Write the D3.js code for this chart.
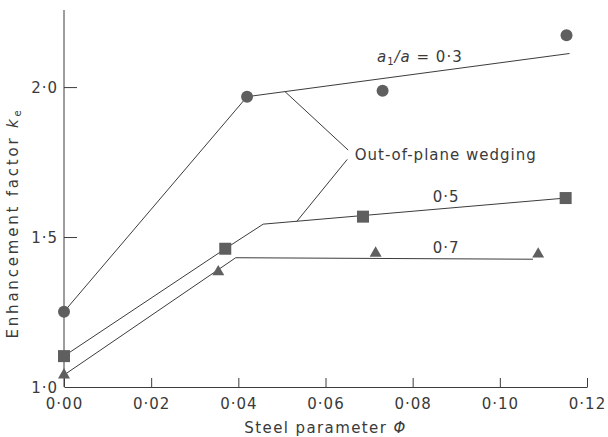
<!DOCTYPE html>
<html>
<head>
<meta charset="utf-8">
<script src="https://cdn.jsdelivr.net/npm/d3@7"></script>
<style>
  html, body { margin: 0; padding: 0; background: #fff; }
  svg { display: block; }
  text { font-family: "DejaVu Sans", sans-serif; fill: #3a3a3a; }
</style>
</head>
<body>
<svg id="chart" width="608" height="437"></svg>
<script>
// ---- data ----
const xTicks = [0.00, 0.02, 0.04, 0.06, 0.08, 0.10, 0.12];
const yTicks = [1.0, 1.5, 2.0];

// measured points, a1/a = 0.3 (circles)
const phiCircle = [0, 0.042, 0.0731, 0.1153];
const keCircle  = [1.251, 1.968, 1.988, 2.173];
// a1/a = 0.5 (squares)
const phiSquare = [0, 0.037, 0.0686, 0.1151];
const keSquare  = [1.103, 1.461, 1.568, 1.630];
// a1/a = 0.7 (triangles)
const phiTriangle = [0, 0.0354, 0.0715, 0.1088];
const keTriangle  = [1.040, 1.384, 1.446, 1.443];

// theoretical lines
const line03Phi = [0, 0.042, 0.116];
const line03Ke  = [1.251, 1.968, 2.112];
const line05Phi = [0, 0.037, 0.0457, 0.1151];
const line05Ke  = [1.103, 1.461, 1.543, 1.630];
const line07Phi = [0, 0.0394, 0.1076];
const line07Ke  = [1.040, 1.431, 1.426];

// leader lines for "Out-of-plane wedging"
const leaderPhi = [[0.0507, 0.0652], [0.0650, 0.0534]];
const leaderKe  = [[1.985, 1.790], [1.759, 1.552]];

// labels
const labelTexts = ["Out-of-plane wedging", "0·5", "0·7"];
const labelPhi = [0.0667, 0.0846, 0.0846];
const labelKe  = [1.757, 1.618, 1.446];
const ratioLabelPhi = 0.0718, ratioLabelKe = 2.084;

// ---- drawing ----
const svg = d3.select("#chart");
const x = d3.scaleLinear().domain([0, 0.12]).range([64, 587]);
const y = d3.scaleLinear().domain([1.0, 2.257]).range([387, 10]);
const fmt = d => d3.format(".2f")(d).replace(".", "·");
const fmtY = d => d3.format(".1f")(d).replace(".", "·");

const ink = "#3c3c3c";
const markFill = "#5f5f5f";

// x axis
const gx = svg.append("g").attr("transform", `translate(0,${y(1.0)})`)
  .call(d3.axisBottom(x).tickValues(xTicks).tickFormat(fmt)
        .tickSize(-9).tickSizeOuter(0).tickPadding(11));
// y axis
const gy = svg.append("g").attr("transform", `translate(${x(0)},0)`)
  .call(d3.axisLeft(y).tickValues(yTicks).tickFormat(fmtY)
        .tickSize(-13).tickSizeOuter(0).tickPadding(6));
[gx, gy].forEach(g => {
  g.selectAll("path.domain").attr("stroke", ink).attr("stroke-width", 1);
  g.selectAll(".tick line").attr("stroke", ink).attr("stroke-width", 1);
  g.selectAll(".tick text").attr("font-size", 15).attr("fill", "#3a3a3a")
    .style("font-family", "DejaVu Sans").style("letter-spacing", "1px");
});
gy.selectAll(".tick text").attr("dy", "0.36em");
// no tick mark for y=1.0 (it coincides with the x axis)
gy.selectAll(".tick").filter(d => d === 1.0).select("line").remove();
// extend y-axis domain line exactly from 1.0 to top
gy.select("path.domain").attr("d", `M0,${y(1.0)}V${y(2.257)}`);

// axis titles
svg.append("text")
  .attr("x", (x(0) + x(0.12)) / 2).attr("y", 433)
  .attr("text-anchor", "middle").attr("font-size", 15)
  .style("letter-spacing", "1.4px")
  .html('Steel parameter <tspan font-style="italic">Φ</tspan>');

const yt = svg.append("text")
  .attr("transform", "translate(17.5,223) rotate(-90)")
  .attr("text-anchor", "middle").attr("font-size", 15)
  .style("letter-spacing", "2.8px");
yt.append("tspan").text("Enhancement factor ");
yt.append("tspan").attr("font-style", "italic").text("k");
yt.append("tspan").attr("font-size", 10).attr("dy", 3).text("e");

// lines
const lineGen = d3.line().x(d => x(d[0])).y(d => y(d[1]));
const zip = (a, b) => a.map((v, i) => [v, b[i]]);
[[line03Phi, line03Ke], [line05Phi, line05Ke], [line07Phi, line07Ke]].forEach(([p, k]) => {
  svg.append("path").datum(zip(p, k)).attr("d", lineGen)
    .attr("fill", "none").attr("stroke", ink).attr("stroke-width", 1);
});
leaderPhi.forEach((p, i) => {
  svg.append("path").datum(zip(p, leaderKe[i])).attr("d", lineGen)
    .attr("fill", "none").attr("stroke", ink).attr("stroke-width", 1);
});

// markers
svg.append("g").selectAll("circle").data(zip(phiCircle, keCircle)).join("circle")
  .attr("cx", d => x(d[0])).attr("cy", d => y(d[1])).attr("r", 6)
  .attr("fill", markFill);
svg.append("g").selectAll("rect").data(zip(phiSquare, keSquare)).join("rect")
  .attr("x", d => x(d[0]) - 6).attr("y", d => y(d[1]) - 6)
  .attr("width", 12).attr("height", 12).attr("fill", markFill);
const tri = d3.symbol().type(d3.symbolTriangle).size(62);
svg.append("g").selectAll("path").data(zip(phiTriangle, keTriangle)).join("path")
  .attr("d", tri).attr("transform", d => `translate(${x(d[0])},${y(d[1])})`)
  .attr("fill", markFill);

// labels
const rl = svg.append("text").attr("x", x(ratioLabelPhi)).attr("y", y(ratioLabelKe))
  .attr("font-size", 15).style("letter-spacing", "1px");
rl.append("tspan").attr("font-style", "italic").text("a");
rl.append("tspan").attr("font-size", 10).attr("dy", 3).text("1");
rl.append("tspan").attr("dy", -3).attr("font-style", "italic").text("/a");
rl.append("tspan").text(" = 0·3");

labelTexts.forEach((t, i) => {
  svg.append("text").attr("x", x(labelPhi[i])).attr("y", y(labelKe[i]))
    .attr("font-size", 15).style("letter-spacing", "1px").text(t);
});
</script>
</body>
</html>
